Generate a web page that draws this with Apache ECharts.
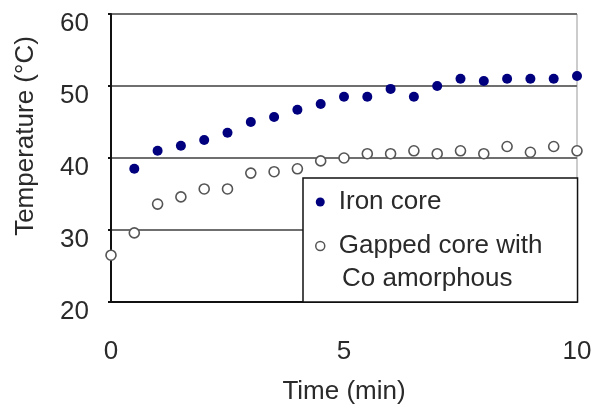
<!DOCTYPE html>
<html>
<head>
<meta charset="utf-8">
<script src="https://cdn.jsdelivr.net/npm/echarts@6/dist/echarts.min.js"></script>
<style>html,body{margin:0;padding:0;background:#fff}#c{width:593px;height:405px}</style>
</head>
<body>
<div id="c"></div>
<script>
const times = [0,0.5,1,1.5,2,2.5,3,3.5,4,4.5,5,5.5,6,6.5,7,7.5,8,8.5,9,9.5,10];
const ironCore = [26.5,38.5,41.0,41.7,42.5,43.5,45.0,45.7,46.7,47.5,48.5,48.5,49.6,48.5,50.0,51.0,50.7,51.0,51.0,51.0,51.4];
const gappedCore = [26.5,29.6,33.6,34.6,35.7,35.7,37.9,38.1,38.5,39.6,40.0,40.6,40.6,41.0,40.6,41.0,40.6,41.6,40.8,41.6,41.0];
const seriesNames = ['Iron core', 'Gapped core with Co amorphous'];
const xTitle = 'Time (min)';
const yTitle = 'Temperature (\u00B0C)';

const FONT = 'Liberation Sans, Arial, sans-serif';
const TXT = '#2a2a2a';
const pair = arr => times.map((t, i) => [t, arr[i]]);

const chart = echarts.init(document.getElementById('c'), null, {renderer: 'canvas'});
chart.setOption({
  animation: false,
  backgroundColor: '#fff',
  grid: {left: 111, right: 16, top: 14, bottom: 103, containLabel: false, outerBoundsMode: 'none',
         show: true, borderColor: '#999', borderWidth: 1, backgroundColor: 'transparent'},
  xAxis: {
    type: 'value', min: 0, max: 10, interval: 5,
    name: xTitle, nameLocation: 'middle', nameGap: 77,
    nameTextStyle: {fontFamily: FONT, fontSize: 26, color: TXT},
    axisLine: {show: true, lineStyle: {color: '#111', width: 2}},
    axisTick: {show: false},
    splitLine: {show: false},
    axisLabel: {fontFamily: FONT, fontSize: 26, color: TXT, margin: 37}
  },
  yAxis: {
    type: 'value', min: 20, max: 60, interval: 10,
    name: yTitle, nameLocation: 'middle', nameGap: 72,
    nameTextStyle: {fontFamily: FONT, fontSize: 26, color: TXT, padding: [0,0,0,44]},
    axisLine: {show: true, lineStyle: {color: '#111', width: 2}},
    axisTick: {show: true, length: 3, lineStyle: {color: '#111', width: 2}},
    splitLine: {show: true, lineStyle: {color: '#6f6f6f', width: 2}},
    axisLabel: {fontFamily: FONT, fontSize: 26, color: TXT, margin: 22, verticalAlign: 'top', lineHeight: 20}
  },
  legend: {
    orient: 'vertical', left: 303, top: 178,
    padding: [11, 35, 43, 12],
    itemWidth: 27, itemHeight: 9, itemGap: 18,
    backgroundColor: '#fff', borderColor: '#111', borderWidth: 1.5,
    textStyle: {fontFamily: FONT, fontSize: 26, color: TXT},
    formatter: name => name === seriesNames[1] ? 'Gapped core with' : name,
    data: [
      {name: seriesNames[0], icon: 'circle', itemStyle: {color: '#00007f', borderWidth: 0}},
      {name: seriesNames[1], icon: 'circle', itemStyle: {color: '#fff', borderColor: '#555', borderWidth: 1.5}}
    ]
  },
  graphic: [{
    type: 'text', left: 342, top: 266, z: 100,
    style: {text: 'Co amorphous', font: '26px ' + FONT, fill: TXT}
  }],
  series: [
    {name: seriesNames[0], type: 'scatter', clip: false, symbol: 'circle', symbolSize: 10,
     itemStyle: {color: '#00007f', opacity: 1}, data: pair(ironCore)},
    {name: seriesNames[1], type: 'scatter', clip: false, symbol: 'circle', symbolSize: 10,
     itemStyle: {color: '#fff', borderColor: '#555', borderWidth: 1.6, opacity: 1}, data: pair(gappedCore)}
  ]
});
</script>
</body>
</html>
